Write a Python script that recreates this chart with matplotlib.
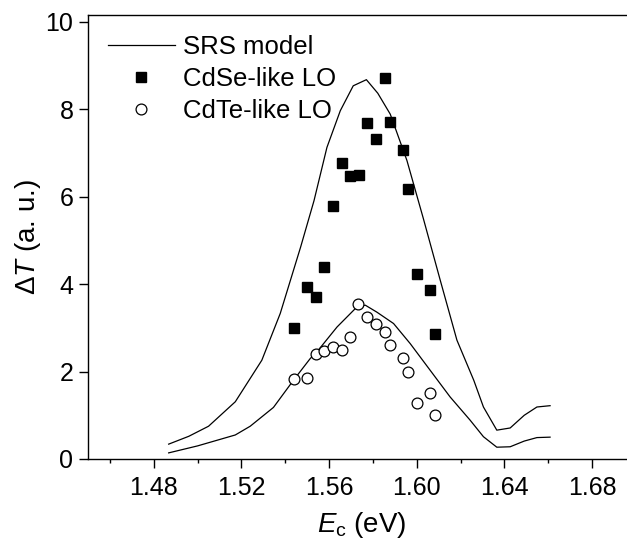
import matplotlib
matplotlib.use("Agg")
import matplotlib.pyplot as plt
from matplotlib.ticker import MultipleLocator

plt.rcParams['font.family'] = ['Liberation Sans', 'DejaVu Sans']
plt.rcParams['mathtext.fontset'] = 'custom'
plt.rcParams['mathtext.rm'] = 'Liberation Sans'
plt.rcParams['mathtext.it'] = 'Liberation Sans:italic'

# SRS model curves (upper: CdSe-like, lower: CdTe-like)
srs_se_x = [1.4868, 1.4960, 1.5050, 1.5172, 1.5293, 1.5377, 1.5470, 1.5531, 1.5590,
            1.5651, 1.5710, 1.5770, 1.5822, 1.5879, 1.5955, 1.6030, 1.6107, 1.6183,
            1.6260, 1.6304, 1.6365, 1.6426, 1.6490, 1.6548, 1.6608]
srs_se_y = [0.34, 0.52, 0.75, 1.31, 2.26, 3.33, 4.85, 5.91, 7.13,
            7.97, 8.54, 8.68, 8.37, 7.89, 6.83, 5.50, 4.09, 2.72,
            1.80, 1.19, 0.66, 0.71, 1.00, 1.19, 1.22]

srs_te_x = [1.4868, 1.5000, 1.5172, 1.5240, 1.5346, 1.5437, 1.5514, 1.5544, 1.5636,
            1.5727, 1.5765, 1.5818, 1.5894, 1.5970, 1.6061, 1.6152, 1.6243, 1.6304,
            1.6365, 1.6426, 1.6490, 1.6548, 1.6608]
srs_te_y = [0.14, 0.30, 0.55, 0.75, 1.18, 1.80, 2.30, 2.45, 3.02,
            3.48, 3.52, 3.36, 3.10, 2.64, 2.03, 1.42, 0.89, 0.51,
            0.27, 0.28, 0.41, 0.49, 0.50]

# measured points
cdse_x = [1.5857, 1.5775, 1.5877, 1.5816, 1.5938, 1.5657, 1.5695, 1.5736, 1.5958,
          1.5616, 1.5578, 1.5999, 1.5500, 1.6061, 1.5538, 1.5442, 1.6083]
cdse_y = [8.71, 7.68, 7.72, 7.33, 7.07, 6.78, 6.48, 6.51, 6.18,
          5.78, 4.39, 4.24, 3.93, 3.87, 3.70, 3.00, 2.85]

cdte_x = [1.5734, 1.5775, 1.5815, 1.5856, 1.5877, 1.5695, 1.5538, 1.5578, 1.5617,
          1.5657, 1.5441, 1.5500, 1.5937, 1.5958, 1.6061, 1.6000, 1.6083]
cdte_y = [3.55, 3.26, 3.10, 2.90, 2.60, 2.79, 2.41, 2.48, 2.56,
          2.49, 1.84, 1.86, 2.30, 1.98, 1.52, 1.29, 1.00]

fig = plt.figure(figsize=(6.27, 5.42), dpi=100)
# axes run past the right edge of the picture, as in the reference
ax = fig.add_axes([88 / 627, 83 / 542, 548 / 627, 444 / 542])

ax.plot(srs_se_x, srs_se_y, color='black', lw=0.9, label='SRS model')
ax.plot(srs_te_x, srs_te_y, color='black', lw=0.9)
ax.plot(cdse_x, cdse_y, ls='none', marker='s', ms=7.2, mfc='black', mec='black',
        label='CdSe-like LO')
ax.plot(cdte_x, cdte_y, ls='none', marker='o', ms=7.8, mfc='white', mec='black',
        mew=0.9, label='CdTe-like LO')

ax.set_xlim(1.45, 1.70)
ax.set_ylim(0, 10.16)
ax.xaxis.set_minor_locator(MultipleLocator(0.02))
ax.set_xticks([1.48, 1.52, 1.56, 1.60, 1.64, 1.68])
ax.set_xticklabels(['1.48', '1.52', '1.56', '1.60', '1.64', '1.68'])
ax.yaxis.set_major_locator(MultipleLocator(2))

ax.tick_params(which='major', direction='out', length=6.5, width=1.0, labelsize=18)
ax.tick_params(axis='x', which='major', pad=6)
ax.tick_params(axis='y', which='major', pad=4)
ax.tick_params(which='minor', direction='out', length=3.2, width=1.0)
for sp in ax.spines.values():
    sp.set_linewidth(1.0)

ax.set_xlabel(r'$\mathit{E}_\mathrm{c}$ (eV)', fontsize=20, labelpad=7)
ax.set_ylabel(r'$\Delta\mathit{T}$ (a. u.)', fontsize=20, labelpad=2)

ax.legend(loc='upper left', bbox_to_anchor=(0.0365, 0.955), frameon=False,
          fontsize=18.5, handlelength=2.6, handletextpad=0.3, labelspacing=0.32,
          borderpad=0, borderaxespad=0)

fig.savefig('out.png', dpi=100)
